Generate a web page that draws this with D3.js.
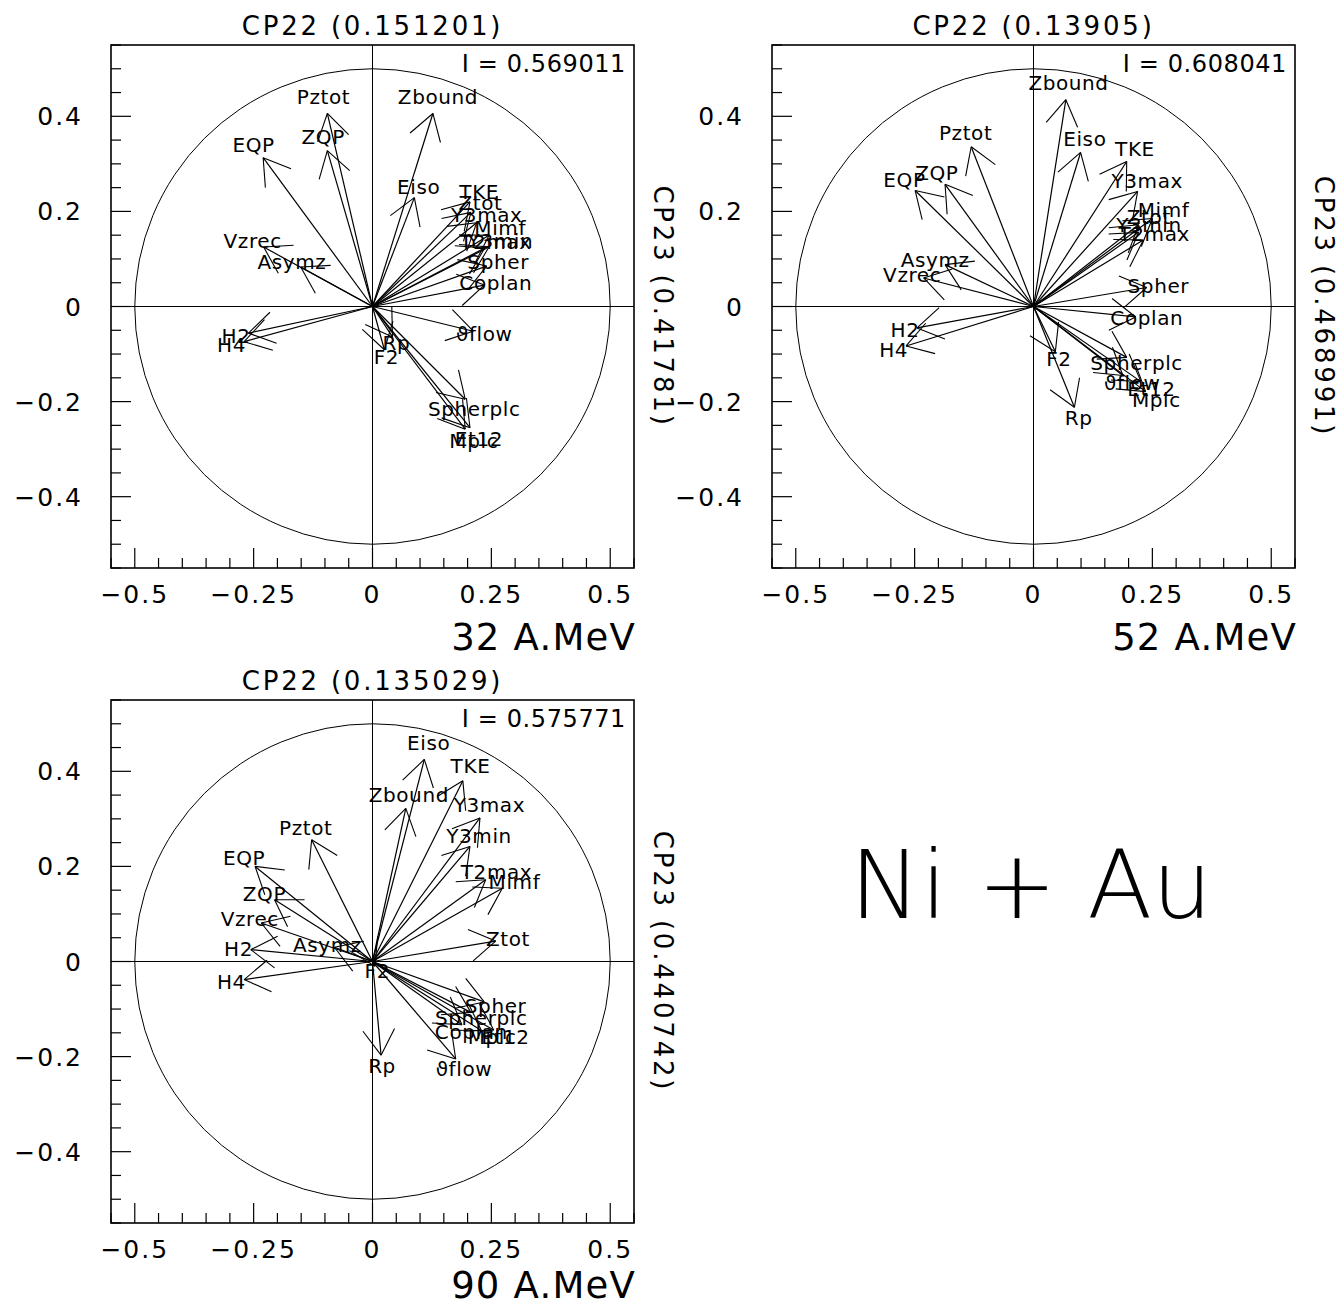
<!DOCTYPE html>
<html><head><meta charset="utf-8">
<script src="https://cdn.jsdelivr.net/npm/d3@7"></script>
<style>body{margin:0;background:#fff}svg{display:block}</style>
</head><body>
<script>
// ---------- data ----------
const variables = ["Pztot","ZQP","EQP","Zbound","Eiso","TKE","Ztot","Y3max","Y3min","T2max","Mimf","Spher","Coplan","Vzrec","Asymz","H2","H4","ϑflow","Rp","F2","Spherplc","Et12","Mplc"];

const energies = ["32 A.MeV","52 A.MeV","90 A.MeV"];
const cp22Titles = ["CP22 (0.151201)","CP22 (0.13905)","CP22 (0.135029)"];
const cp23Titles = ["CP23 (0.41781)","CP23 (0.468991)","CP23 (0.440742)"];
const inertia = ["I = 0.569011","I = 0.608041","I = 0.575771"];

// CP22 (x) and CP23 (y) coordinates for each variable, per energy
const cp22_32 = [-0.095,-0.095,-0.230,0.127,0.088,0.205,0.207,0.219,0.245,0.236,0.245,0.240,0.235,-0.229,-0.151,-0.261,-0.270,0.212,0.042,0.025,0.195,0.205,0.195];
const cp23_32 = [0.406,0.328,0.313,0.406,0.229,0.220,0.198,0.176,0.125,0.123,0.150,0.085,0.045,0.125,0.083,-0.056,-0.074,-0.052,-0.064,-0.091,-0.195,-0.255,-0.258];

const cp22_52 = [-0.131,-0.186,-0.249,0.068,0.099,0.196,0.221,0.219,0.221,0.231,0.250,0.238,0.215,-0.231,-0.186,-0.245,-0.268,0.188,0.086,0.046,0.196,0.226,0.236];
const cp23_52 = [0.336,0.257,0.244,0.435,0.324,0.305,0.172,0.242,0.156,0.140,0.185,0.040,-0.022,0.060,0.088,-0.045,-0.083,-0.145,-0.212,-0.095,-0.107,-0.158,-0.179];

const cp22_90 = [-0.128,-0.206,-0.247,0.070,0.109,0.190,0.259,0.226,0.205,0.238,0.273,0.235,0.188,-0.234,-0.080,-0.256,-0.270,0.175,0.018,0.005,0.207,0.255,0.229];
const cp23_90 = [0.256,0.130,0.200,0.322,0.425,0.380,0.043,0.302,0.242,0.172,0.154,-0.085,-0.133,0.081,0.030,0.025,-0.038,-0.205,-0.197,-0.010,-0.107,-0.144,-0.145];

const xTickValues = [-0.5,-0.25,0,0.25,0.5];
const xTickLabels = ["\u22120.5","\u22120.25","0","0.25","0.5"];
const yTickValues = [-0.4,-0.2,0,0.2,0.4];
const yTickLabels = ["\u22120.4","\u22120.2","0","0.2","0.4"];
const bigLabel = "Ni + Au";

// ---------- layout ----------
const W = 1344, H = 1308;
const SIZE = 523;
const panelPos = [[111,45],[772,45],[111,700]];
const seriesX = [cp22_32, cp22_52, cp22_90];
const seriesY = [cp23_32, cp23_52, cp23_90];
const FONT = "DejaVu Sans, Liberation Sans, sans-serif";

const svg = d3.select("body").append("svg").attr("width", W).attr("height", H);

const x = d3.scaleLinear().domain([-0.55,0.55]).range([0, SIZE]);
const y = d3.scaleLinear().domain([-0.55,0.55]).range([SIZE, 0]);

panelPos.forEach(([px,py], p) => {
  const g = svg.append("g").attr("transform", `translate(${px},${py})`);

  // frame
  g.append("rect").attr("x",0).attr("y",0).attr("width",SIZE).attr("height",SIZE)
    .attr("fill","none").attr("stroke","#000").attr("stroke-width",1.6);

  // minor / major ticks (inside, left and bottom)
  const minor = d3.range(-0.55, 0.5501, 0.05).map(v => Math.round(v*100)/100);
  const yMinor = minor.filter(v => !yTickValues.some(t => Math.abs(t - v) < 1e-6));
  const xMinor = minor.filter(v => !xTickValues.some(t => Math.abs(t - v) < 1e-6));
  g.selectAll(".ymin").data(yMinor).join("line")
    .attr("x1",0).attr("x2",10).attr("y1",d=>y(d)).attr("y2",d=>y(d))
    .attr("stroke","#000").attr("stroke-width",1.2);
  g.selectAll(".ymaj").data(yTickValues).join("line")
    .attr("x1",0).attr("x2",20).attr("y1",d=>y(d)).attr("y2",d=>y(d))
    .attr("stroke","#000").attr("stroke-width",1.2);
  g.selectAll(".xmin").data(xMinor).join("line")
    .attr("y1",SIZE).attr("y2",SIZE-10).attr("x1",d=>x(d)).attr("x2",d=>x(d))
    .attr("stroke","#000").attr("stroke-width",1.2);
  g.selectAll(".xmaj").data(xTickValues).join("line")
    .attr("y1",SIZE).attr("y2",SIZE-20).attr("x1",d=>x(d)).attr("x2",d=>x(d))
    .attr("stroke","#000").attr("stroke-width",1.2);

  // tick labels
  g.selectAll(".xl").data(xTickValues).join("text")
    .attr("x",d=>x(d)).attr("y",SIZE+35).attr("text-anchor","middle")
    .attr("font-family",FONT).attr("font-size",25).attr("letter-spacing",2)
    .text((d,i)=>xTickLabels[i]);
  g.selectAll(".yl").data(yTickValues).join("text")
    .attr("x",-28).attr("y",d=>y(d)+9).attr("text-anchor","end")
    .attr("font-family",FONT).attr("font-size",25).attr("letter-spacing",2)
    .text((d,i)=>yTickLabels[i]);

  // zero lines
  g.append("line").attr("x1",0).attr("x2",SIZE).attr("y1",y(0)).attr("y2",y(0))
    .attr("stroke","#000").attr("stroke-width",1);
  g.append("line").attr("x1",x(0)).attr("x2",x(0)).attr("y1",0).attr("y2",SIZE)
    .attr("stroke","#000").attr("stroke-width",1);

  // circle of radius 0.5
  g.append("circle").attr("cx",x(0)).attr("cy",y(0)).attr("r",x(0.5)-x(0))
    .attr("fill","none").attr("stroke","#000").attr("stroke-width",1);

  // arrows
  const pts = variables.map((name,i)=>({name, vx: seriesX[p][i], vy: seriesY[p][i]}));
  const ox = x(0), oy = y(0);
  const head = 30, ang = 32*Math.PI/180;
  pts.forEach(d => {
    const tx = x(d.vx), ty = y(d.vy);
    const th = Math.atan2(oy-ty, ox-tx);
    g.append("line").attr("x1",ox).attr("y1",oy).attr("x2",tx).attr("y2",ty)
      .attr("stroke","#000").attr("stroke-width",1.2);
    [th+ang, th-ang].forEach(a => {
      g.append("line").attr("x1",tx).attr("y1",ty)
        .attr("x2",tx+head*Math.cos(a)).attr("y2",ty+head*Math.sin(a))
        .attr("stroke","#000").attr("stroke-width",1.1);
    });
    const len = Math.hypot(tx-ox, ty-oy) || 1;
    const off = 0.06*len + 5;
    const lx = tx + off*(tx-ox)/len, ly = ty + off*(ty-oy)/len;
    g.append("text").attr("x",lx).attr("y",ly).attr("dy","0.36em")
      .attr("text-anchor","middle").attr("font-family",FONT)
      .attr("font-size",20).attr("letter-spacing",0.6).text(d.name);
  });

  // inertia text
  g.append("text").attr("x",SIZE-8).attr("y",27).attr("text-anchor","end")
    .attr("font-family",FONT).attr("font-size",24).attr("letter-spacing",0.6)
    .text(inertia[p]);

  // title (CP22)
  g.append("text").attr("x",SIZE/2).attr("y",-10).attr("text-anchor","middle")
    .attr("font-family",FONT).attr("font-size",26).attr("letter-spacing",2.8)
    .text(cp22Titles[p]);

  // right axis title (CP23), rotated
  g.append("text").attr("transform",`translate(${SIZE+20},${SIZE/2}) rotate(90)`)
    .attr("text-anchor","middle").attr("font-family",FONT).attr("font-size",26)
    .attr("letter-spacing",2.8).text(cp23Titles[p]);

  // energy label
  const baseY = Math.min(SIZE+82, H - 10 - py);
  g.append("text").attr("x",SIZE+2).attr("y",baseY).attr("text-anchor","end")
    .attr("font-family",FONT).attr("font-size",37).attr("letter-spacing",1.2)
    .text(energies[p]);
});

svg.append("text").attr("x",1031).attr("y",918).attr("text-anchor","middle")
  .attr("font-family",FONT).attr("font-size",95).attr("font-weight",300)
  .text(bigLabel);
</script>
</body></html>
